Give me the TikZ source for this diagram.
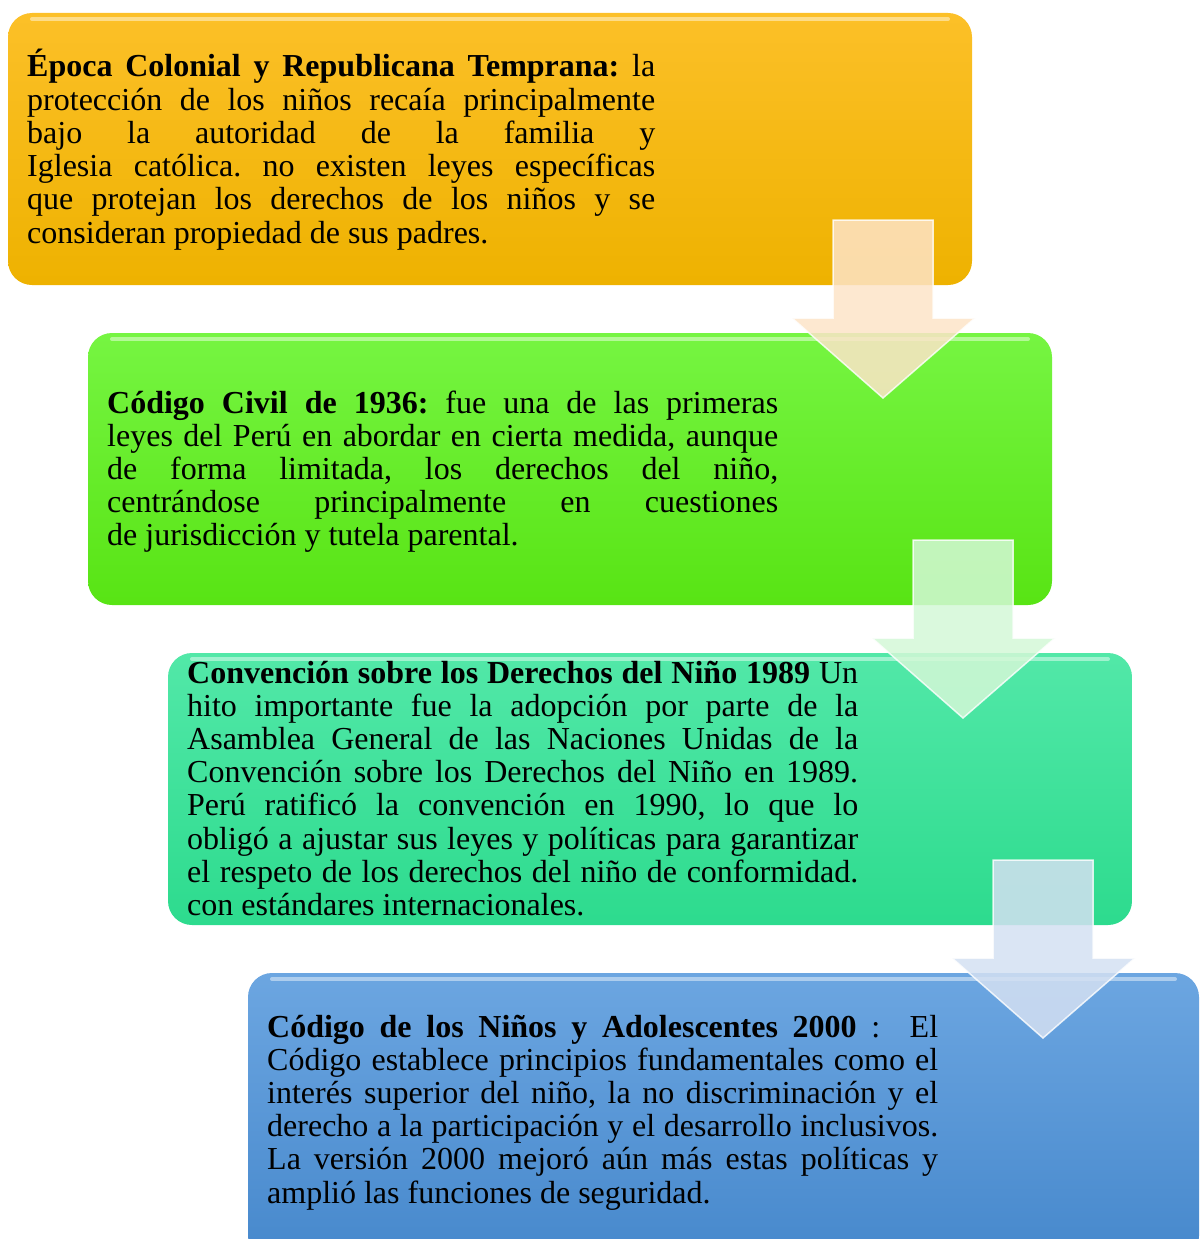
\documentclass[tikz,border=0pt]{standalone}
\usepackage{fontspec}
\setmainfont{Liberation Serif}
\definecolor{oTop}{RGB}{252,192,40}
\definecolor{oMid}{RGB}{253,197,0}
\definecolor{oBot}{RGB}{238,178,0}
\definecolor{gTop}{RGB}{118,245,66}
\definecolor{gMid}{RGB}{102,242,40}
\definecolor{gBot}{RGB}{88,228,20}
\definecolor{tTop}{RGB}{82,232,168}
\definecolor{tMid}{RGB}{60,226,154}
\definecolor{tBot}{RGB}{45,219,142}
\definecolor{bTop}{RGB}{108,166,225}
\definecolor{bMid}{RGB}{86,153,218}
\definecolor{bBot}{RGB}{70,136,204}
\definecolor{aPeach}{RGB}{253,228,200}
\definecolor{aGreen}{RGB}{212,248,215}
\definecolor{aBlue}{RGB}{212,224,242}
\hyphenpenalty=10000
\tolerance=9999
\frenchspacing
\begin{document}
\begin{tikzpicture}[x=1pt,y=-1pt,
  box/.style={rounded corners=24pt},
  shine/.style={white,opacity=0.45,line width=4pt,line cap=round},
  downarrow/.style={draw=white,line width=1.5pt,fill opacity=0.85,draw opacity=0.8,line join=miter},
  txt/.style={inner sep=0pt,anchor=base west,align=justify,
    font=\fontsize{32}{33.2}\selectfont}]
\useasboundingbox (0,0) rectangle (1200,1239);
\begin{scope}
\clip (0,0) rectangle (1200,1239);
% boxes
\path[box,top color=oTop,middle color=oMid,bottom color=oBot] (8,13) rectangle (972,285);
\draw[shine] (32,19) -- (948,19);
\path[box,top color=gTop,middle color=gMid,bottom color=gBot] (88,333) rectangle (1052,605);
\draw[shine] (112,339) -- (1028,339);
\path[box,top color=tTop,middle color=tMid,bottom color=tBot] (168,653) rectangle (1132,925);
\draw[shine] (192,659) -- (1108,659);
\path[box,top color=bTop,middle color=bMid,bottom color=bBot] (248,973) rectangle (1199,1260);
\draw[shine] (272,979) -- (1175,979);
% arrows
\filldraw[downarrow,fill=aPeach] (833,220) -- (933,220) -- (933,318) -- (975,318) -- (883,398) -- (792,318) -- (833,318) -- cycle;
\filldraw[downarrow,fill=aGreen] (913,540) -- (1013,540) -- (1013,638) -- (1055,638) -- (963,718) -- (872,638) -- (913,638) -- cycle;
\filldraw[downarrow,fill=aBlue] (993,860) -- (1093,860) -- (1093,958) -- (1135,958) -- (1043,1038) -- (952,958) -- (993,958) -- cycle;
\end{scope}
% texts
\node[txt,text width=628pt] (t1) at (27,77) {\textbf{Época Colonial y Republicana Temprana:} la\linebreak protección de los niños recaía principalmente\linebreak bajo la autoridad de la familia y\linebreak Iglesia católica. no existen leyes específicas\linebreak que protejan los derechos de los niños y se\linebreak consideran propiedad de sus padres.};
\node[txt,text width=671pt] (t2) at (107,413) {\textbf{Código Civil de 1936:} fue una de las primeras\linebreak leyes del Perú en abordar en cierta medida, aunque\linebreak de forma limitada, los derechos del niño,\linebreak centrándose principalmente en cuestiones\linebreak de jurisdicción y tutela parental.};
\node[txt,text width=671pt] (t3) at (187,683) {\textbf{Convención sobre los Derechos del Niño 1989} Un\linebreak hito importante fue la adopción por parte de la\linebreak Asamblea General de las Naciones Unidas de la\linebreak Convención sobre los Derechos del Niño en 1989.\linebreak Perú ratificó la convención en 1990, lo que lo\linebreak obligó a ajustar sus leyes y políticas para garantizar\linebreak el respeto de los derechos del niño de conformidad.\linebreak con estándares internacionales.};
\node[txt,text width=671pt] (t4) at (267,1037) {\textbf{Código de los Niños y Adolescentes 2000} :~~El\linebreak Código establece principios fundamentales como el\linebreak interés superior del niño, la no discriminación y el\linebreak derecho a la participación y el desarrollo inclusivos.\linebreak La versión 2000 mejoró aún más estas políticas y\linebreak amplió las funciones de seguridad.};
\end{tikzpicture}
\end{document}
